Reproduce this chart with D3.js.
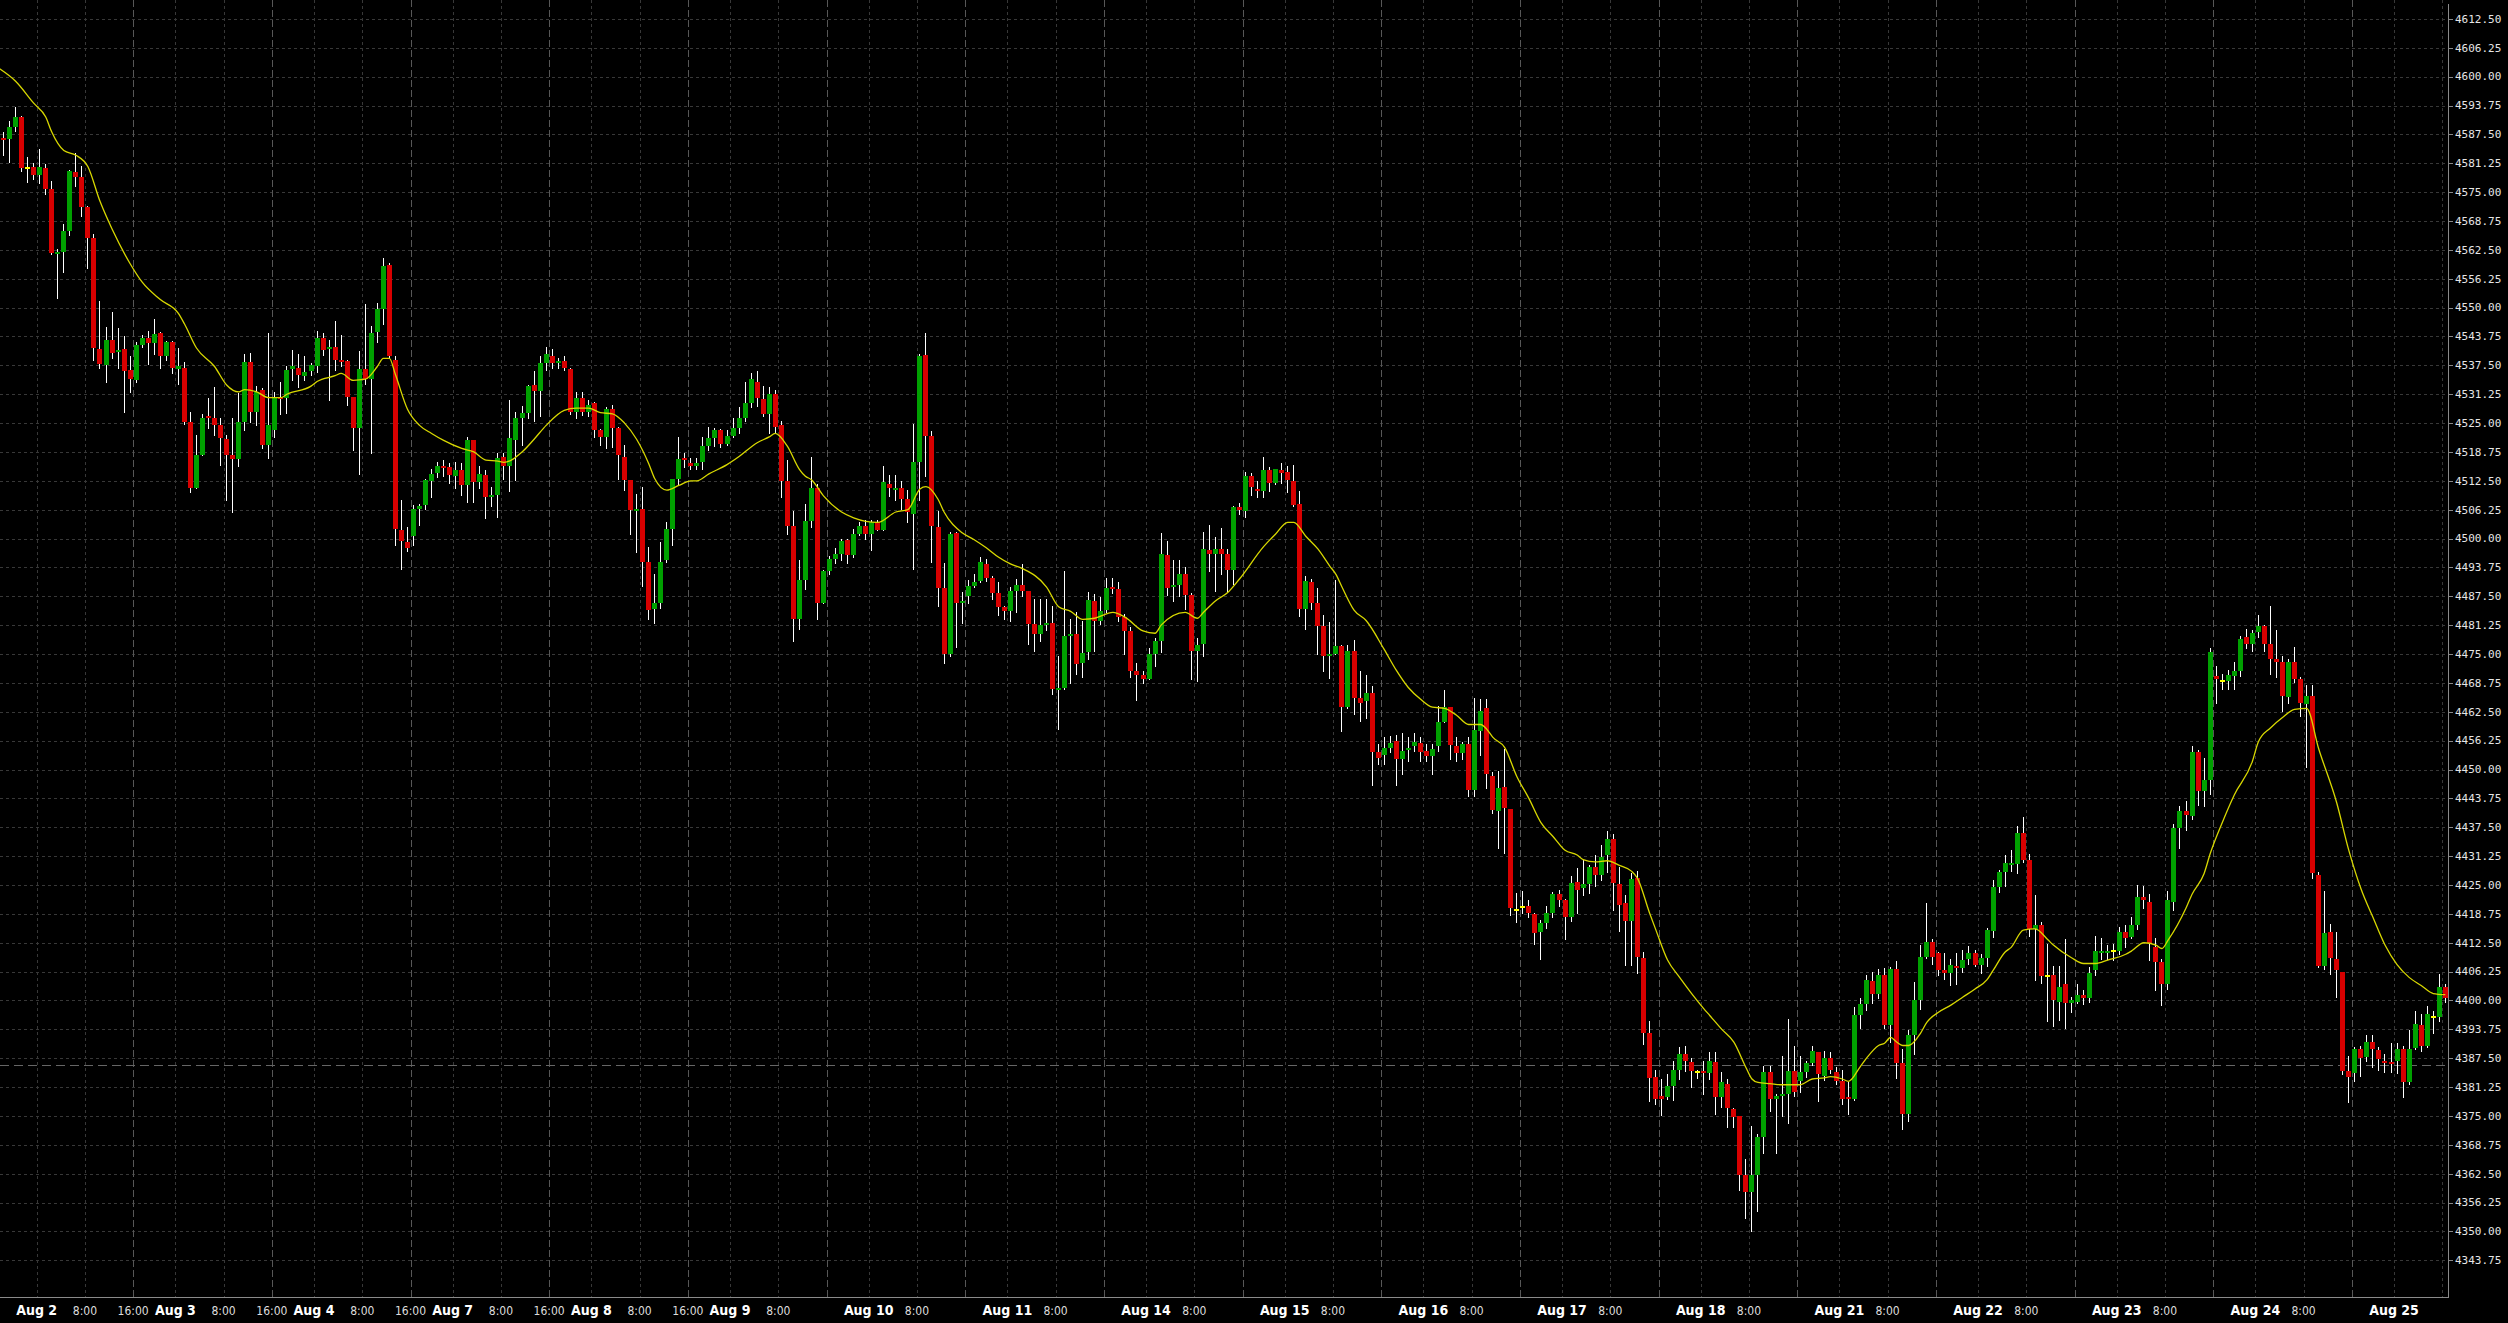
<!DOCTYPE html>
<html><head><meta charset="utf-8">
<script src="https://cdn.jsdelivr.net/npm/d3@7"></script>
<style>
html,body{margin:0;padding:0;background:#000;}
svg{display:block;}
</style></head>
<body>
<svg id="chart" width="2508" height="1323"></svg>
<script>
// ---------------- data ----------------
const days = ["Aug 2","Aug 3","Aug 4","Aug 7","Aug 8","Aug 9","Aug 10","Aug 11","Aug 14","Aug 15","Aug 16","Aug 17","Aug 18","Aug 21","Aug 22","Aug 23","Aug 24","Aug 25"];
const sessionHours = [18,19,20,21,22,23,0,1,2,3,4,5,6,7,8,9,10,11,12,13,14,15,16];
const firstCandle = {day:"Aug 1", hour:16};
const afternoonLabelDays = ["Aug 2","Aug 3","Aug 4","Aug 7","Aug 8"];
const refLevel = 4386;
const yTicks = d3.range(4343.75, 4612.5 + 0.01, 6.25);

const opens = [
4580.25,4586.75,4586.5,4589,4591.25,4580.25,4580.5,4578.75,4580.25,4575.75,
4561.75,4562,4566.5,4579.25,4578.25,4571.75,4565,4541,4537.5,4543,
4540.5,4541,4536.5,4534.25,4542,4543.5,4542.25,4544.5,4539.5,4542.5,
4536.75,4537,4525.25,4511,4518,4526.5,4526,4524.5,4521.5,4518,
4517.25,4525.25,4538.25,4527.5,4532.25,4520.25,4523.5,4530.75,4530.5,4536.75,
4537,4535.25,4536.25,4537.25,4543.5,4541,4541.5,4538.75,4538.5,4530.75,
4524,4536.75,4534.5,4544.75,4549.75,4559.25,4538.75,4501.75,4499.25,4500.5,
4506.5,4507.25,4512.5,4514.25,4515.75,4515.5,4513.5,4514.75,4511.5,4521.25,
4512.25,4513.75,4509,4509.5,4517.75,4515.75,4521.25,4526,4527.25,4533.25,
4532,4538,4539.5,4538.25,4538.5,4536.75,4527.5,4530.5,4527.5,4529.25,
4523.5,4522,4528,4524,4517.75,4512.75,4506.25,4506.5,4495,4484.75,
4486,4495.25,4502,4513,4517.5,4516.25,4515.75,4516.5,4520,4521.75,
4523.5,4520.5,4522.25,4524,4526,4529.25,4534,4530.25,4527,4531.25,
4524.5,4512.5,4502.75,4482.5,4491,4503.75,4511,4486,4493,4495.5,
4496.75,4499.75,4496.5,4501,4502.75,4501,4503.5,4501.75,4511.75,4510.75,
4511,4508.5,4505.25,4516.5,4539.75,4522.25,4502.5,4489.25,4475,4501.25,
4486.25,4487.5,4489.75,4490.75,4494.5,4491.5,4488.25,4485.25,4484.25,4488.75,
4490,4488.75,4481.5,4479.25,4481.25,4481.75,4467.5,4467.75,4479,4479.25,
4473,4475.5,4486.5,4482.25,4484.5,4489.5,4489,4483,4480,4471.25,
4470.5,4469.5,4475,4477.75,4496.5,4489.5,4490,4492.25,4487.75,4475.75,
4477.25,4497.5,4496.75,4497.75,4496.75,4493.25,4506.75,4506,4513.5,4510.75,
4510.25,4514.75,4512,4514.75,4514.5,4512.5,4507.5,4484.75,4490.5,4486,
4481,4474.5,4475,4476.75,4463.5,4475.75,4465.5,4464.75,4466.5,4453.75,
4453.25,4454.75,4456.25,4452.25,4454.25,4455,4455.75,4454,4453,4455,
4460.25,4463.5,4455,4453.5,4455.5,4445.5,4458.25,4463.25,4448.5,4441,
4446.25,4441.5,4419.5,4420.25,4420.5,4418.75,4414.75,4416.75,4419,4423,
4421.75,4418,4425.75,4424.25,4425.25,4429,4427.25,4431.5,4435,4425.25,
4421,4417.25,4426.5,4409.25,4393,4383.5,4379.25,4379,4381.5,4385,
4388.5,4386.75,4384.5,4384.75,4384.25,4386.75,4379,4382,4376.5,4375,
4362.25,4358.5,4362.25,4370.5,4384.5,4378.75,4379.25,4379.75,4384.75,4382.5,
4384.5,4386.5,4388.75,4383.75,4387.5,4384.5,4382.5,4379,4378.75,4396.75,
4399.25,4404.25,4401.5,4405.5,4394.75,4406.75,4386.5,4375.5,4392.5,4400,
4409.5,4412.75,4410.25,4406.5,4406,4407.5,4407,4409,4410.25,4407.75,
4409.25,4415,4424.5,4427.75,4429.25,4429.5,4436.25,4430.5,4415.5,4416.25,
4405.25,4405.5,4399.75,4403.5,4399.5,4399.75,4401.25,4400.5,4406.5,4410.5,
4410.5,4410.75,4410.75,4414.75,4413.75,4416.25,4422.5,4421.25,4411.5,4408.25,
4403.5,4421.25,4437.25,4441,4440,4453.75,4445.25,4447.75,4470.25,4469.25,
4469.25,4470.25,4471.25,4478.75,4477.25,4479.75,4481,4477.25,4474,4473.25,
4465.75,4473.25,4469.5,4464.25,4466,4427.25,4407.5,4414.75,4409,4406.25,
4384.75,4384.25,4389.5,4387.75,4391,4389.25,4387,4386.75,4387,4389.5,
4382.25,4389.75,4394.75,4390.25,4396.5,4396.5,4403
];
const highs = [
4583.5,4588,4590.5,4593.5,4591.5,4582.5,4581.25,4584.25,4581,4577.5,
4562.75,4568,4579.75,4583.5,4580.75,4572,4566,4551.5,4545.75,4549,
4545.5,4543.75,4539.5,4542.5,4544,4545,4547.5,4544.75,4542.75,4542.75,
4541.25,4538.25,4527.5,4522.5,4527,4530.5,4532.75,4526,4522.5,4526,
4531.5,4540,4540.25,4533,4532.5,4544.5,4531.75,4534,4537.25,4540.75,
4540,4539.5,4538,4545,4544.5,4543,4547,4544,4538.75,4530.75,
4540.5,4550.75,4546,4551,4560.75,4559.75,4539.5,4508.25,4502.5,4507.25,
4507.5,4513,4515,4516.5,4517,4516.25,4516.5,4516.25,4522,4521.25,
4515.75,4514.75,4511.25,4518.5,4518.5,4530,4527.5,4528.75,4533.25,4536.25,
4539.5,4541.5,4541,4539,4539.5,4537,4531.75,4531.75,4530,4529.5,
4523.75,4528.5,4529,4524.25,4520.25,4512.75,4509.75,4511.25,4498.25,4492.25,
4499.25,4503.5,4513,4522,4518.5,4517.5,4517.5,4522,4524.25,4524,
4523.75,4523.5,4526,4528.5,4534,4535.75,4536.25,4533,4532.75,4532.25,
4525.5,4517,4506,4495.25,4507.5,4517.75,4511.75,4493.25,4496.25,4498,
4500,4500,4502,4503.5,4504,4504,4504,4515.75,4513.75,4513.75,
4512.5,4510.5,4524.75,4540,4544.5,4523.25,4506,4494.75,4501.5,4501.5,
4488.5,4491,4492.25,4496,4495.5,4492,4490.5,4485.5,4489.5,4491.25,
4494.5,4488.75,4487,4487,4487,4485.5,4474.5,4493,4482.5,4484,
4482.25,4488.5,4488,4487.25,4491.5,4491.5,4490.5,4483.75,4480.75,4473,
4471.25,4476.25,4478.5,4501.25,4499.5,4495.25,4495.25,4493.75,4488.25,4478.5,
4501.5,4503,4500.25,4502.25,4497.75,4507,4507.75,4514.5,4514.25,4512.5,
4517.75,4515.5,4515,4516.25,4515.75,4516,4510.25,4492,4491.25,4489.25,
4483.5,4482,4491,4477,4477,4478,4471.25,4470.5,4468,4455.5,
4457,4457.25,4457.5,4458,4457,4458,4457,4455.5,4455.5,4463.75,
4467.25,4463.5,4457,4456,4457,4465.5,4465.25,4465.25,4449.5,4449.75,
4454.5,4441.5,4423.25,4423.75,4421.75,4419,4417.5,4420.5,4423.5,4424,
4422,4427,4428.75,4430.5,4429.25,4431.5,4433.75,4436.75,4436,4429,
4422.75,4427.5,4428,4410.5,4395.5,4385,4383,4384,4387,4390,
4390.25,4387.5,4385,4387,4388.75,4388.75,4384.5,4383,4376.75,4375,
4365.75,4372.75,4371,4385.75,4385.75,4379.75,4388,4396,4390.25,4388,
4387,4390.25,4388.75,4389,4388.75,4385.5,4385,4382.25,4398.5,4400.5,
4405.5,4406.25,4406.75,4407,4407.25,4408.5,4389.5,4393.5,4404,4412,
4421,4413.25,4410.5,4410.25,4409,4410.25,4411,4411.75,4411,4410,
4415.75,4426,4428.25,4431.5,4432.5,4437.75,4439.75,4431.75,4422.75,4417,
4412.25,4407.5,4407.5,4413.25,4400.75,4403.5,4402.25,4407.25,4414,4413.5,
4412,4412.25,4416,4416.25,4418,4425,4424.75,4423,4413.5,4409,
4423.75,4438.25,4442,4443.25,4455,4454.25,4452.5,4476.25,4472.5,4470.75,
4471.5,4473.25,4479,4480.5,4480.25,4483.5,4481.25,4485.5,4480.25,4474.5,
4474,4476.5,4470,4468.25,4468.25,4427.75,4423.75,4416.5,4414.75,4406.25,
4388,4390,4390.25,4392.5,4392.5,4390,4388.5,4390.75,4390.75,4390.25,
4393.5,4397.75,4397,4398.75,4397.75,4405.75,4403.5
];
const lows = [
4579.5,4583,4581.5,4588.25,4579.5,4577.25,4577.75,4577,4574.5,4561.5,
4552,4557.75,4565.75,4576.25,4569.75,4558.5,4538.75,4537,4534,4539,
4537,4527.5,4531.75,4534,4541.5,4537.75,4540,4537,4538.75,4535.75,
4533.5,4524.75,4510,4511,4518,4524,4522.5,4516,4508.25,4505.75,
4515.75,4523.5,4525.25,4524.5,4519.5,4517.5,4522,4527,4527.25,4534.25,
4532.75,4534.25,4535.5,4536,4539.75,4530,4536.5,4537.25,4529,4519.25,
4514,4533.5,4518.5,4542.5,4546.5,4539,4498.5,4493.5,4497.25,4498.5,
4503,4506.5,4509,4513.25,4513.5,4512,4511,4509.5,4508,4508,
4511,4504.5,4507,4504.75,4513,4510.25,4512.75,4520.25,4526,4525.5,
4526.5,4536.5,4537,4537,4536.5,4527,4526,4526.75,4526.5,4522,
4520.25,4519.5,4519.75,4513,4510.5,4501,4497,4489.75,4482.5,4481.75,
4485,4495,4498.5,4511.75,4515.5,4515,4515,4515,4519.25,4520,
4519.75,4520.25,4522,4522.75,4525.5,4528.5,4528.75,4526.5,4522.75,4522.75,
4509,4501,4477.75,4480.5,4489,4502.5,4482.5,4486,4492.25,4494.75,
4495.25,4494.75,4496,4500.75,4500,4497.5,4501.75,4501.75,4509.25,4508.25,
4506.5,4503.5,4493.5,4508.25,4513.5,4495,4485.5,4473,4474.5,4476.5,
4481.75,4486,4489.5,4490.5,4490.75,4487,4483.5,4482.5,4482.25,4484,
4487.5,4477.25,4475.75,4477.75,4480.25,4466.25,4458.75,4467.5,4468.75,4470.75,
4470,4474,4475.75,4481.5,4484,4488.25,4482.25,4475,4470,4465,
4468.75,4469.5,4472.5,4475.5,4487.75,4486.5,4487.5,4484.75,4469.5,4469.25,
4474.5,4493,4488.75,4492.25,4488.75,4490.25,4505.25,4504.75,4509.5,4509,
4509,4510.25,4511.75,4512,4510,4507,4483.25,4480.5,4484.75,4475,
4471.25,4469.75,4475,4458.25,4463.25,4462,4460.5,4461.25,4446.75,4451.25,
4451.25,4453.75,4446.75,4449,4451.75,4454,4451.75,4451.75,4449,4454,
4460.25,4452.25,4451.75,4452.25,4444.25,4444.25,4453.25,4446,4440.5,4433,
4432,4418.5,4417,4419,4418,4412.25,4409,4415.75,4418,4420.5,
4413.25,4417.25,4419,4422.75,4423.25,4424.75,4426,4427.75,4419.5,4415,
4407.75,4407.75,4406,4390.5,4378.25,4377.5,4375.25,4378.75,4378.5,4383,
4384.75,4381.25,4383.25,4379.75,4383,4375.5,4377,4372.5,4372.5,4359,
4353,4350,4354.5,4367,4376,4367,4375,4373.5,4379.25,4380.25,
4383.5,4386,4378.25,4382.75,4384.25,4382,4377.5,4375.5,4378.5,4394,
4398,4399.5,4400.5,4394,4391,4383.25,4372.25,4374,4388.5,4398.25,
4409.25,4408,4405.5,4404.75,4403.25,4403.5,4406.25,4408,4407.5,4406,
4407.5,4413.75,4423.5,4424.75,4428,4427.5,4430,4414,4404.5,4403.75,
4395.5,4394.5,4395.75,4394,4397.5,4399.5,4399.25,4399.75,4405.5,4409,
4409,4408.75,4410,4411.5,4413.5,4415.5,4420,4408.75,4402.25,4399,
4402.5,4419.5,4433,4437,4439.25,4442.25,4442,4444.75,4464.5,4467.5,
4467.5,4467.5,4470.25,4476.25,4475.75,4478.75,4475.75,4470.75,4470,4462.75,
4464.5,4469,4461.5,4450.5,4426.5,4407.25,4406.75,4405.75,4400.75,4384,
4378,4382.5,4383.75,4387,4385.5,4385,4384.5,4384.5,4384.25,4379,
4382,4389.5,4389,4390,4393,4395.5,4399.75
];
const closes = [
4582.75,4586.25,4589,4591.25,4580.25,4580.25,4578.75,4580.5,4575.75,4561.75,
4562,4566.5,4579.5,4578.25,4571.75,4565,4541.25,4537.75,4543,4540.25,
4540.75,4536.25,4534.5,4542,4543.5,4542.25,4544.25,4539.5,4542.5,4537,
4537.25,4525.25,4511,4518,4526,4526,4524.5,4521.75,4518,4517.25,
4525.25,4538.25,4527.5,4531.75,4520.25,4524.5,4530.5,4530.5,4536.5,4537.25,
4535.5,4536,4537.5,4543.5,4540.75,4541.5,4538.75,4538.25,4530.75,4524,
4536.75,4534.5,4544.5,4549.75,4559,4539.5,4502,4499.5,4498,4506.5,
4507,4512.75,4514,4515.75,4515.25,4513.75,4514.75,4511.5,4521.25,4512.25,
4514,4509,4509.5,4517.5,4515.75,4521.75,4526,4527.25,4533,4532,
4538,4540,4538,4538.5,4537,4527.5,4530.5,4527.5,4529,4523.5,
4522,4528,4524,4518,4512.75,4506.25,4506.5,4495,4484.5,4486,
4495,4502,4513,4517.25,4517,4515.75,4516.25,4520,4521.75,4523.5,
4520.5,4522.25,4524,4526,4529.25,4534.5,4530.5,4527,4531.25,4524.25,
4512.5,4502.75,4482.5,4491,4503.75,4511,4486,4493,4495.5,4496.75,
4499.5,4496.5,4501,4502.75,4501,4503.5,4501.75,4512.25,4511,4511,
4508.5,4505.75,4516.5,4539.5,4522.25,4502.75,4489.25,4475,4501,4486,
4486.5,4489.75,4490.5,4495,4491.5,4488.25,4485.25,4484.25,4488.75,4490,
4488.75,4481.5,4479.25,4481.25,4481.75,4467.5,4467.75,4479,4479.25,4472.75,
4475.25,4486.75,4482.25,4484.25,4489.25,4489,4483,4480,4471.25,4470.5,
4469.5,4475,4477.75,4496.75,4489.25,4490,4492.25,4487.75,4475.75,4477,
4497.75,4496.75,4497.75,4496.75,4493.25,4506.75,4506.25,4513.5,4511.25,4510.25,
4514.75,4512,4515,4514.25,4512.75,4507.25,4484.75,4490.75,4486,4481,
4474.5,4475,4476.75,4463.5,4475.75,4465.5,4464.5,4466.5,4453.75,4452.5,
4454.75,4455.75,4452.25,4454,4454.75,4456,4453.75,4453,4454.5,4460.25,
4463.5,4455.25,4453.5,4455.5,4445.5,4458.5,4462.75,4449,4441.25,4446,
4441.75,4420,4419.5,4420.25,4419,4414.5,4416.75,4419,4423,4421.75,
4418,4425.5,4424,4425.25,4429,4427.25,4431,4435,4425.5,4420.75,
4417.25,4426.25,4409.5,4393,4383.25,4378.75,4378.75,4381.5,4385,4388.5,
4387,4384.75,4384.5,4384.25,4387,4379,4382.25,4376.75,4374.75,4362.25,
4358.5,4362.25,4370.5,4384.5,4378.75,4379.25,4379.75,4384.75,4380.25,4384.5,
4386.5,4389,4384,4387.5,4385,4382.5,4378.75,4378.75,4396.75,4399.25,
4404.5,4401.5,4405.5,4394.75,4406.75,4386.5,4375.5,4392.5,4400,4409.5,
4412.75,4409.5,4406.5,4406,4407.75,4407,4408.75,4410.25,4407.75,4409.25,
4415.25,4424.5,4427.75,4429.75,4429.75,4436.25,4430.5,4415.5,4416.25,4405.25,
4405.25,4400,4403,4399.5,4400,4401.25,4400.5,4406,4410.75,4410.75,
4410.75,4410.75,4414.75,4413.5,4416.25,4422.5,4421.75,4412.5,4408.25,4403.5,
4421.75,4437.25,4441,4440.25,4453.75,4445.25,4447.75,4475.5,4469.5,4469.25,
4470.5,4471.25,4478.25,4477.25,4479.5,4481,4477.25,4474,4473.25,4466,
4473.25,4469.5,4464.5,4466,4427.5,4407.5,4414.5,4409.25,4406.5,4384.75,
4383.5,4389.5,4387.5,4391,4389.5,4387.25,4386.75,4386.5,4389.5,4382.25,
4389.5,4395,4390.25,4397,4396.5,4403,4400.5
];

// moving average at candle indices
const maIdx = [0,3,6,8,9,11,13,15,17,19,22,24,27,30,31,33,36,38,40,41,43,45,47,48,52,53,56,57,59,61,63,64,65,66,68,70,72,74,77,79,81,83,84,87,89,91,94,96,98,100,102,104,106,108,109,111,113,115,116,118,121,123,126,128,129,131,133,134,135,137,140,142,146,149,151,153,154,156,157,160,162,164,166,168,170,174,176,178,180,182,185,187,190,192,193,197,199,200,202,204,206,210,212,214,215,217,219,221,222,223,225,227,230,232,234,236,238,240,242,244,246,247,248,250,252,254,256,258,260,262,263,265,267,269,271,272,274,275,277,279,281,283,284,286,288,290,291,292,294,296,299,301,303,304,306,307,309,310,312,313,314,315,316,317,319,320,322,324,326,328,330,331,333,334,336,338,340,341,344,346,348,350,353,354,356,358,359,360,363,364,366,367,369,371,374,375,377,379,381,383,385,388,390,392,394,396,398,400,402,404,406];
const maVal = [4602,4599,4594.25,4591.25,4588,4584,4583,4580.5,4573,4567,4559.5,4555.5,4551.75,4548.75,4546.5,4541.25,4537.25,4533.25,4531.75,4532.25,4531.75,4530.5,4530.5,4531.25,4533,4534,4535.25,4535.75,4534.25,4534.5,4537.25,4539,4539,4535.5,4528,4524.5,4522.75,4521.25,4519.5,4518.75,4517,4516.75,4516.5,4518.75,4521.5,4524.5,4527.75,4528.25,4528.25,4527.25,4527,4525,4521.5,4516.25,4513,4510.5,4511.5,4512.5,4512.5,4514,4516,4517.75,4520.75,4522,4522.75,4520,4515,4513.5,4512.75,4509.25,4505.75,4504.5,4503.5,4505.75,4506.25,4510.75,4511.25,4508.5,4505.75,4501.25,4499.75,4498,4496,4494.5,4493.5,4489.5,4485.25,4484.25,4482.5,4482.75,4484,4483,4480,4479.5,4481.25,4484,4482.75,4484,4486.5,4488.25,4491.25,4498.25,4501,4503.5,4503.5,4500.5,4497.75,4494,4492.25,4489.5,4484.5,4482.25,4476,4471.5,4467.75,4465.25,4463.5,4463.25,4461.75,4459.75,4459.75,4458.75,4457,4454.75,4448.5,4443.75,4438.5,4435.5,4432.5,4431.5,4430.5,4430,4430.25,4429.25,4428,4426.5,4419,4415.5,4408.75,4405,4401.5,4398.25,4396.75,4393.75,4391,4385.5,4383,4382.25,4382,4381.75,4381.75,4383,4383.25,4383.5,4383,4382.5,4385.75,4387.5,4390.25,4390.75,4392,4391,4390.25,4390.25,4393,4395.25,4397.5,4399,4400.75,4402.5,4404.5,4406.5,4410.5,4411.5,4415.25,4415.5,4413.25,4412,4409.25,4408,4408,4408.75,4410,4410.75,4412.5,4412,4411.25,4413,4420,4423,4427.5,4431.75,4438.5,4444.5,4451.75,4456,4459,4461.25,4463,4463.25,4454.5,4442.75,4432.5,4424.25,4418,4412,4407.75,4405,4403.25,4401.5,4401.25];

// ---------------- build categories ----------------
const n = opens.length;
const times = [firstCandle];
days.forEach(d => sessionHours.forEach(h => times.push({day:d, hour:h})));
times.length = n;
const candles = d3.range(n).map(i => ({i, t:times[i], o:opens[i], h:highs[i], l:lows[i], c:closes[i]}));

// ---------------- layout ----------------
const W = 2508, H = 1323;
const plotR = 2448, plotB = 1297;
const svg = d3.select("#chart");
svg.append("rect").attr("width",W).attr("height",H).attr("fill","#000");

const x = d3.scaleBand().domain(d3.range(n)).range([-5.5, 2448.3]).paddingInner(0).paddingOuter(0);
const y = d3.scaleLinear().domain([4343.75, 4612.5]).range([1260.3, 18.9]);
const cx = i => x(i) + x.bandwidth()/2;

svg.append("defs").append("clipPath").attr("id","plot")
  .append("rect").attr("x",0).attr("y",0).attr("width",plotR).attr("height",plotB);

const grid = svg.append("g").attr("shape-rendering","crispEdges");
// horizontal grid
grid.selectAll("line.h").data(yTicks).join("line")
  .attr("x1",0).attr("x2",plotR)
  .attr("y1",d=>Math.round(y(d))+0.5).attr("y2",d=>Math.round(y(d))+0.5)
  .attr("stroke","#383838").attr("stroke-dasharray","3,3");
// vertical grid
const vlines = candles.filter(d => d.t.hour===0 || d.t.hour===8 || d.t.hour===16);
grid.selectAll("line.v").data(vlines).join("line")
  .attr("x1",d=>Math.round(x(d.i))+0.5).attr("x2",d=>Math.round(x(d.i))+0.5)
  .attr("y1",0).attr("y2",plotB)
  .attr("stroke",d=>d.t.hour===16 ? "#575757" : "#383838")
  .attr("stroke-dasharray",d=>d.t.hour===16 ? "7,3" : "3,3");
// reference level line
grid.append("line").attr("x1",0).attr("x2",plotR)
  .attr("y1",Math.round(y(refLevel))+0.5).attr("y2",Math.round(y(refLevel))+0.5)
  .attr("stroke","#666").attr("stroke-dasharray","9,5");

// ---------------- candles ----------------
const cg = svg.append("g").attr("clip-path","url(#plot)").attr("shape-rendering","crispEdges");
const bx = i => Math.round(x(i) + 0.5);
cg.selectAll("line.wick").data(candles).join("line")
  .attr("x1",d=>bx(d.i)+2.5).attr("x2",d=>bx(d.i)+2.5)
  .attr("y1",d=>Math.round(y(d.h))).attr("y2",d=>Math.round(y(d.l))+1)
  .attr("stroke","#ffffff").attr("stroke-width",1);
cg.selectAll("rect.body").data(candles).join("rect")
  .attr("x",d=>bx(d.i)).attr("width",5)
  .attr("y",d=>{ if (d.o===d.c) return Math.round(y(d.o))-1; return Math.round(y(Math.max(d.o,d.c))); })
  .attr("height",d=>{ if (d.o===d.c) return 2; return Math.max(2, Math.round(y(Math.min(d.o,d.c))) - Math.round(y(Math.max(d.o,d.c)))); })
  .attr("fill",d=> d.o===d.c ? "#ffff00" : (d.c>d.o ? "#00a000" : "#d80000"));

// ---------------- moving average ----------------
const maPts = maIdx.map((k,j)=>[cx(k), y(maVal[j])]);
svg.append("g").attr("clip-path","url(#plot)").append("path")
  .attr("d", d3.line().curve(d3.curveMonotoneX)(maPts))
  .attr("fill","none").attr("stroke","#d8d800").attr("stroke-width",1.3);

// ---------------- axes ----------------
const ax = svg.append("g").attr("shape-rendering","crispEdges");
ax.append("line").attr("x1",plotR+0.5).attr("x2",plotR+0.5).attr("y1",4).attr("y2",plotB+0.5).attr("stroke","#8a8a8a");
ax.append("line").attr("x1",0).attr("x2",plotR+0.5).attr("y1",plotB+0.5).attr("y2",plotB+0.5).attr("stroke","#8a8a8a");
ax.selectAll("line.yt").data(yTicks).join("line")
  .attr("x1",plotR+1).attr("x2",plotR+5)
  .attr("y1",d=>Math.round(y(d))+0.5).attr("y2",d=>Math.round(y(d))+0.5)
  .attr("stroke","#8a8a8a");
svg.append("g").selectAll("text").data(yTicks).join("text")
  .attr("x",plotR+7).attr("y",d=>y(d)).attr("dy","0.35em")
  .attr("font-family","'DejaVu Sans Mono', monospace").attr("font-size",11)
  .attr("fill","#e6e6e6").text(d=>d3.format(".2f")(d));

// x labels (no label squeezed against the right axis)
const xl = [];
candles.forEach(d=>{
  if (x(d.i) > plotR - 20) return;
  if (d.t.hour===0) xl.push({i:d.i, text:d.t.day, bold:true});
  else if (d.t.hour===8) xl.push({i:d.i, text:"8:00", bold:false});
  else if (d.t.hour===16 && afternoonLabelDays.includes(d.t.day)) xl.push({i:d.i, text:"16:00", bold:false});
});
svg.append("g").selectAll("text").data(xl).join("text")
  .attr("x",d=>x(d.i)).attr("y",1315)
  .attr("text-anchor","middle")
  .attr("font-family","'Liberation Sans Narrow','DejaVu Sans Condensed','Arial Narrow',sans-serif")
  .attr("font-weight",d=>d.bold?"bold":"normal")
  .attr("font-size",d=>d.bold?14:12)
  .attr("fill",d=>d.bold?"#ffffff":"#dddddd")
  .text(d=>d.text);
</script>
</body></html>
